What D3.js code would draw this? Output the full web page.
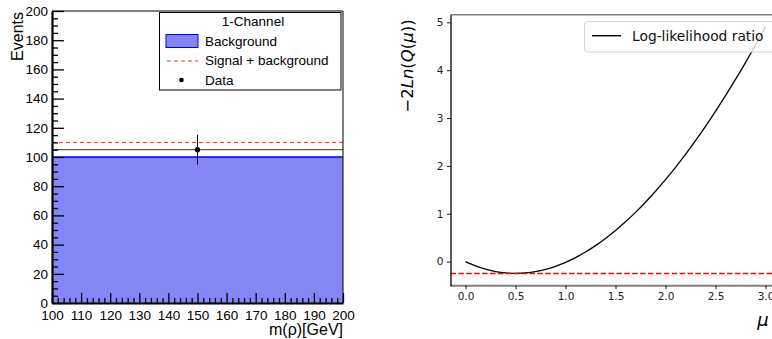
<!DOCTYPE html>
<html>
<head>
<meta charset="utf-8">
<script src="https://cdn.jsdelivr.net/npm/d3@7"></script>
<style>
  html, body { margin: 0; padding: 0; background: #fff; }
  svg { display: block; }
</style>
</head>
<body>
<svg id="chart" width="772" height="339"></svg>
<script>
// ---- single-channel counting experiment ----
const massDomain = [100, 200];
const countDomain = [0, 200];
const backgroundLevel = [100];          // expected background per bin
const signalPlusBackgroundLevel = [110]; // expected signal + background
const dataMass = [150];
const dataCount = [105];
const dataError = [10.25];
const massTicks = [100, 110, 120, 130, 140, 150, 160, 170, 180, 190, 200];
const countTicks = [0, 20, 40, 60, 80, 100, 120, 140, 160, 180, 200];

// ---- log-likelihood ratio scan ----
const muValues = [0.0, 0.1, 0.2, 0.3, 0.4, 0.5, 0.6, 0.7, 0.8, 0.9, 1.0,
                  1.1, 1.2, 1.3, 1.4, 1.5, 1.6, 1.7, 1.8, 1.9, 2.0,
                  2.1, 2.2, 2.3, 2.4, 2.5, 2.6, 2.7, 2.8, 2.9, 3.0];
const llrValues = [0.000, -0.090, -0.159, -0.207, -0.236, -0.246, -0.236, -0.208, -0.162, -0.097, -0.015,
                   0.084, 0.201, 0.334, 0.484, 0.650, 0.832, 1.029, 1.242, 1.470, 1.712,
                   1.970, 2.241, 2.527, 2.827, 3.140, 3.467, 3.806, 4.159, 4.525, 4.904];
const llrReference = [-0.25];
const muTicks = [0, 0.5, 1.0, 1.5, 2.0, 2.5, 3.0];
const llrTicks = [0, 1, 2, 3, 4, 5];

const svg = d3.select("#chart");
const bgColor = "#8585f6";

// ================= left panel =================
const rootFont = "'Liberation Sans', Arial, sans-serif";
const L = { left: 52, right: 343, top: 11, bottom: 303 };
const xM = d3.scaleLinear().domain(massDomain).range([L.left, L.right]);
const yC = d3.scaleLinear().domain(countDomain).range([L.bottom, L.top]);
const left = svg.append("g");

// background histogram
left.append("rect")
  .attr("x", xM(massDomain[0])).attr("y", yC(backgroundLevel[0]))
  .attr("width", xM(massDomain[1]) - xM(massDomain[0]))
  .attr("height", yC(0) - yC(backgroundLevel[0]))
  .attr("fill", bgColor);
left.append("line")
  .attr("x1", xM(massDomain[0])).attr("x2", xM(massDomain[1]))
  .attr("y1", yC(backgroundLevel[0])).attr("y2", yC(backgroundLevel[0]))
  .attr("stroke", "#0000ff").attr("stroke-width", 1.5);

// observed level
left.append("line")
  .attr("x1", xM(massDomain[0])).attr("x2", xM(massDomain[1]))
  .attr("y1", yC(dataCount[0])).attr("y2", yC(dataCount[0]))
  .attr("stroke", "#333").attr("stroke-width", 1);

// signal + background
left.append("line")
  .attr("x1", xM(massDomain[0])).attr("x2", xM(massDomain[1]))
  .attr("y1", yC(signalPlusBackgroundLevel[0])).attr("y2", yC(signalPlusBackgroundLevel[0]))
  .attr("stroke", "#ff2a2a").attr("stroke-width", 1).attr("stroke-dasharray", "4,3");

// data point with error bar
dataMass.forEach((m, i) => {
  left.append("line")
    .attr("x1", xM(m)).attr("x2", xM(m))
    .attr("y1", yC(dataCount[i] - dataError[i])).attr("y2", yC(dataCount[i] + dataError[i]))
    .attr("stroke", "#000").attr("stroke-width", 1);
  left.append("circle").attr("cx", xM(m)).attr("cy", yC(dataCount[i])).attr("r", 2.6).attr("fill", "#000");
});

// frame
left.append("line").attr("x1", L.left).attr("x2", L.right).attr("y1", L.top).attr("y2", L.top)
  .attr("stroke", "#000").attr("stroke-width", 1);
left.append("line").attr("x1", L.right).attr("x2", L.right).attr("y1", L.top).attr("y2", L.bottom)
  .attr("stroke", "#000").attr("stroke-width", 1);

// axes (ticks pointing inward)
const yMinor = d3.range(0, 201, 5).filter(v => v % 20 !== 0);
left.append("g").attr("transform", `translate(${L.left},0)`)
  .call(d3.axisLeft(yC).tickValues(yMinor).tickSize(-6).tickFormat(""))
  .call(g => g.select(".domain").remove())
  .call(g => g.selectAll("line").attr("stroke-width", 1.3));
left.append("g").attr("transform", `translate(${L.left},0)`)
  .call(d3.axisLeft(yC).tickValues(countTicks).tickSizeInner(-12).tickSizeOuter(0).tickPadding(4))
  .call(g => g.select(".domain").attr("stroke-width", 2.2))
  .call(g => g.selectAll("line").attr("stroke-width", 1.3))
  .call(g => g.selectAll("text").attr("font-family", rootFont).attr("font-size", 13.5).attr("fill", "#000"));

const xMinor = d3.range(100, 201, 2).filter(v => v % 10 !== 0);
left.append("g").attr("transform", `translate(0,${L.bottom})`)
  .call(d3.axisBottom(xM).tickValues(xMinor).tickSize(-5).tickFormat(""))
  .call(g => g.select(".domain").remove())
  .call(g => g.selectAll("line").attr("stroke-width", 1.3));
left.append("g").attr("transform", `translate(0,${L.bottom})`)
  .call(d3.axisBottom(xM).tickValues(massTicks).tickSizeInner(-10).tickSizeOuter(0).tickPadding(7))
  .call(g => g.select(".domain").attr("stroke-width", 2.2))
  .call(g => g.selectAll("line").attr("stroke-width", 1.3))
  .call(g => g.selectAll("text").attr("font-family", rootFont).attr("font-size", 13.5).attr("fill", "#000"));

// axis titles
left.append("text")
  .attr("transform", "translate(23,12) rotate(-90)")
  .attr("text-anchor", "end").attr("font-family", rootFont).attr("font-size", 16)
  .text("Events");
left.append("text")
  .attr("x", 343).attr("y", 335).attr("text-anchor", "end")
  .attr("font-family", rootFont).attr("font-size", 16)
  .text("m(ρ)[GeV]");

// legend
const lg = left.append("g");
lg.append("rect").attr("x", 159.5).attr("y", 12.5).attr("width", 181.5).attr("height", 77.5)
  .attr("fill", "#fff").attr("stroke", "#000").attr("stroke-width", 1);
lg.append("text").attr("x", 253).attr("y", 26).attr("text-anchor", "middle")
  .attr("font-family", rootFont).attr("font-size", 13.5).text("1-Channel");
lg.append("rect").attr("x", 166).attr("y", 34.5).attr("width", 32).attr("height", 13)
  .attr("fill", bgColor).attr("stroke", "#0000ff").attr("stroke-width", 1);
lg.append("text").attr("x", 205).attr("y", 45.5)
  .attr("font-family", rootFont).attr("font-size", 13.5).text("Background");
lg.append("line").attr("x1", 167).attr("x2", 198).attr("y1", 61).attr("y2", 61)
  .attr("stroke", "#ff2a2a").attr("stroke-width", 1).attr("stroke-dasharray", "4,3");
lg.append("text").attr("x", 205).attr("y", 65)
  .attr("font-family", rootFont).attr("font-size", 13.5).text("Signal + background");
lg.append("circle").attr("cx", 181.5).attr("cy", 80).attr("r", 2.3).attr("fill", "#000");
lg.append("text").attr("x", 205).attr("y", 84.5)
  .attr("font-family", rootFont).attr("font-size", 13.5).text("Data");

// ================= right panel =================
const mplFont = "'DejaVu Sans', sans-serif";
const R = { left: 450.5, right: 780.5, top: 14.7, bottom: 285.7 };
const xMu = d3.scaleLinear().domain([-0.15, 3.15]).range([R.left, R.right]);
const yQ = d3.scaleLinear().domain([-0.503, 5.159]).range([R.bottom, R.top]);
const right = svg.append("g");

// curve
right.append("path")
  .datum(muValues.map((m, i) => [m, llrValues[i]]))
  .attr("d", d3.line().x(d => xMu(d[0])).y(d => yQ(d[1])).curve(d3.curveCatmullRom))
  .attr("fill", "none").attr("stroke", "#000").attr("stroke-width", 1.3);

// reference level
right.append("line")
  .attr("x1", R.left).attr("x2", R.right)
  .attr("y1", yQ(llrReference[0])).attr("y2", yQ(llrReference[0]))
  .attr("stroke", "#ff0000").attr("stroke-width", 1.5).attr("stroke-dasharray", "5.5,2.4");

// spines
right.append("line").attr("x1", R.left).attr("x2", 772).attr("y1", R.top).attr("y2", R.top)
  .attr("stroke", "#808080").attr("stroke-width", 1.5);
right.append("line").attr("x1", R.left).attr("x2", 772).attr("y1", R.bottom).attr("y2", R.bottom)
  .attr("stroke", "#808080").attr("stroke-width", 2);

right.append("g").attr("transform", `translate(${R.left},0)`)
  .call(d3.axisLeft(yQ).tickValues(llrTicks).tickFormat(d3.format("d")).tickSizeInner(3.5).tickSizeOuter(0).tickPadding(3.5))
  .call(g => g.select(".domain").attr("stroke", "#000").attr("stroke-width", 1.3))
  .call(g => g.selectAll("line").attr("stroke-width", 0.9))
  .call(g => g.selectAll("text").attr("font-family", mplFont).attr("font-size", 10.5).attr("fill", "#222"));
right.append("g").attr("transform", `translate(0,${R.bottom})`)
  .call(d3.axisBottom(xMu).tickValues(muTicks).tickFormat(d3.format(".1f")).tickSizeInner(3.5).tickSizeOuter(0).tickPadding(3.5))
  .call(g => g.select(".domain").remove())
  .call(g => g.selectAll("line").attr("stroke-width", 0.9))
  .call(g => g.selectAll("text").attr("font-family", mplFont).attr("font-size", 10.5).attr("fill", "#222"));

// axis titles
const yt = right.append("text")
  .attr("transform", "translate(413,66) rotate(-90)")
  .attr("text-anchor", "middle").attr("font-family", mplFont).attr("font-size", 16.5);
yt.append("tspan").text("−2");
yt.append("tspan").attr("font-style", "italic").text("Ln");
yt.append("tspan").text("(");
yt.append("tspan").attr("font-style", "italic").text("Q");
yt.append("tspan").text("(");
yt.append("tspan").attr("font-style", "italic").text("μ");
yt.append("tspan").text("))");
right.append("text").attr("x", 763).attr("y", 326).attr("text-anchor", "middle")
  .attr("font-family", mplFont).attr("font-size", 18).attr("font-style", "italic").text("μ");

// legend
const rl = right.append("g");
rl.append("rect").attr("x", 584.5).attr("y", 21.5).attr("width", 200).attr("height", 30.5).attr("rx", 3)
  .attr("fill", "#fff").attr("fill-opacity", 0.8).attr("stroke", "#d4d4d4").attr("stroke-width", 1);
rl.append("line").attr("x1", 592).attr("x2", 621).attr("y1", 35.7).attr("y2", 35.7)
  .attr("stroke", "#000").attr("stroke-width", 1.4);
rl.append("text").attr("x", 632).attr("y", 41).attr("font-family", mplFont).attr("font-size", 13.8)
  .attr("fill", "#111").text("Log-likelihood ratio");
</script>
</body>
</html>
